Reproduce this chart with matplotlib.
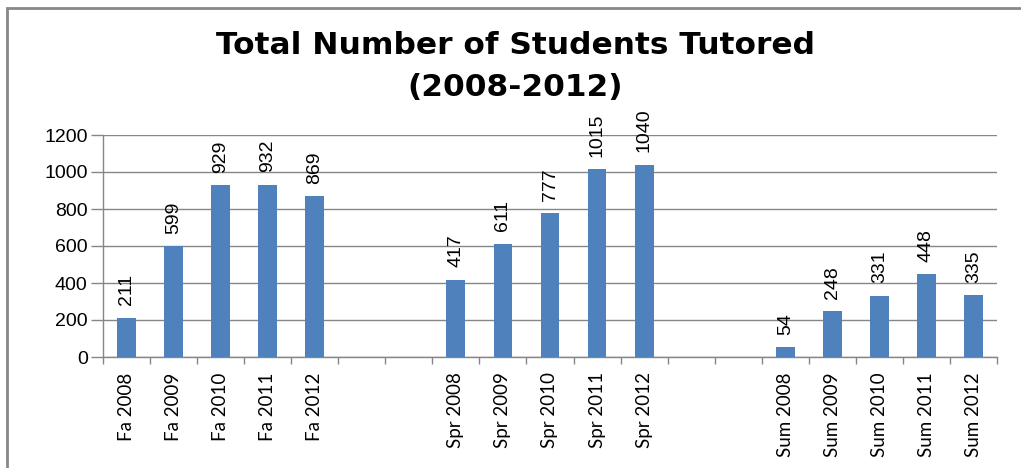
import matplotlib
matplotlib.use("Agg")
import numpy as np
import matplotlib.pyplot as plt
from matplotlib.patches import Rectangle

# data
terms = ["Fa 2008", "Fa 2009", "Fa 2010", "Fa 2011", "Fa 2012",
         "Spr 2008", "Spr 2009", "Spr 2010", "Spr 2011", "Spr 2012",
         "Sum 2008", "Sum 2009", "Sum 2010", "Sum 2011", "Sum 2012"]
students = [211, 599, 929, 932, 869,
            417, 611, 777, 1015, 1040,
            54, 248, 331, 448, 335]
# two empty category slots between the semesters
slots = [0, 1, 2, 3, 4, 7, 8, 9, 10, 11, 14, 15, 16, 17, 18]
n_slots = 19
yticks = [0, 200, 400, 600, 800, 1000, 1200]

fig = plt.figure(figsize=(10.21, 4.68), dpi=100)
ax = fig.add_axes([103 / 1021, 1 - 357 / 468, (997 - 103) / 1021, (357 - 135) / 468])

ax.bar(slots, students, width=0.4, color="#4F81BD", zorder=3)
for x, v in zip(slots, students):
    ax.annotate(str(v), (x, v), xytext=(0, 9), textcoords="offset points",
                rotation=90, ha="center", va="bottom", fontsize=14,
                family="Liberation Sans", color="black")

ax.set_xlim(-0.5, n_slots - 0.5)
ax.set_ylim(0, 1200)
ax.set_yticks(yticks)
ax.set_yticklabels([str(t) for t in yticks], fontsize=14, family="Liberation Sans")
ax.yaxis.grid(True, color="#868686", linewidth=1)
ax.set_axisbelow(True)

ax.set_xticks(slots)
ax.set_xticklabels(terms, rotation=90, fontsize=13.5, family="Lato", va="top", ha="center")
ax.set_xticks(np.arange(-0.5, n_slots, 1), minor=True)
ax.tick_params(axis="x", which="major", length=0, pad=11)
ax.tick_params(axis="x", which="minor", length=5, color="#868686", width=1)
ax.tick_params(axis="y", length=9, color="#868686", width=1, pad=2)

for s in ["top", "right"]:
    ax.spines[s].set_visible(False)
for s in ["left", "bottom"]:
    ax.spines[s].set_color("#868686")
    ax.spines[s].set_linewidth(1)

fig.text(0.505, 1 - 46 / 468, "Total Number of Students Tutored", ha="center", va="center",
         fontsize=22.5, fontweight="bold", family="DejaVu Sans")
fig.text(0.505, 1 - 88 / 468, "(2008-2012)", ha="center", va="center",
         fontsize=22.5, fontweight="bold", family="DejaVu Sans")

fig.patches.append(Rectangle((7 / 1021, -0.05), 1.2, 1 - 8 / 468 + 0.05,
                             transform=fig.transFigure, fill=False,
                             edgecolor="#888888", linewidth=2))

fig.savefig("out.png", dpi=100)
